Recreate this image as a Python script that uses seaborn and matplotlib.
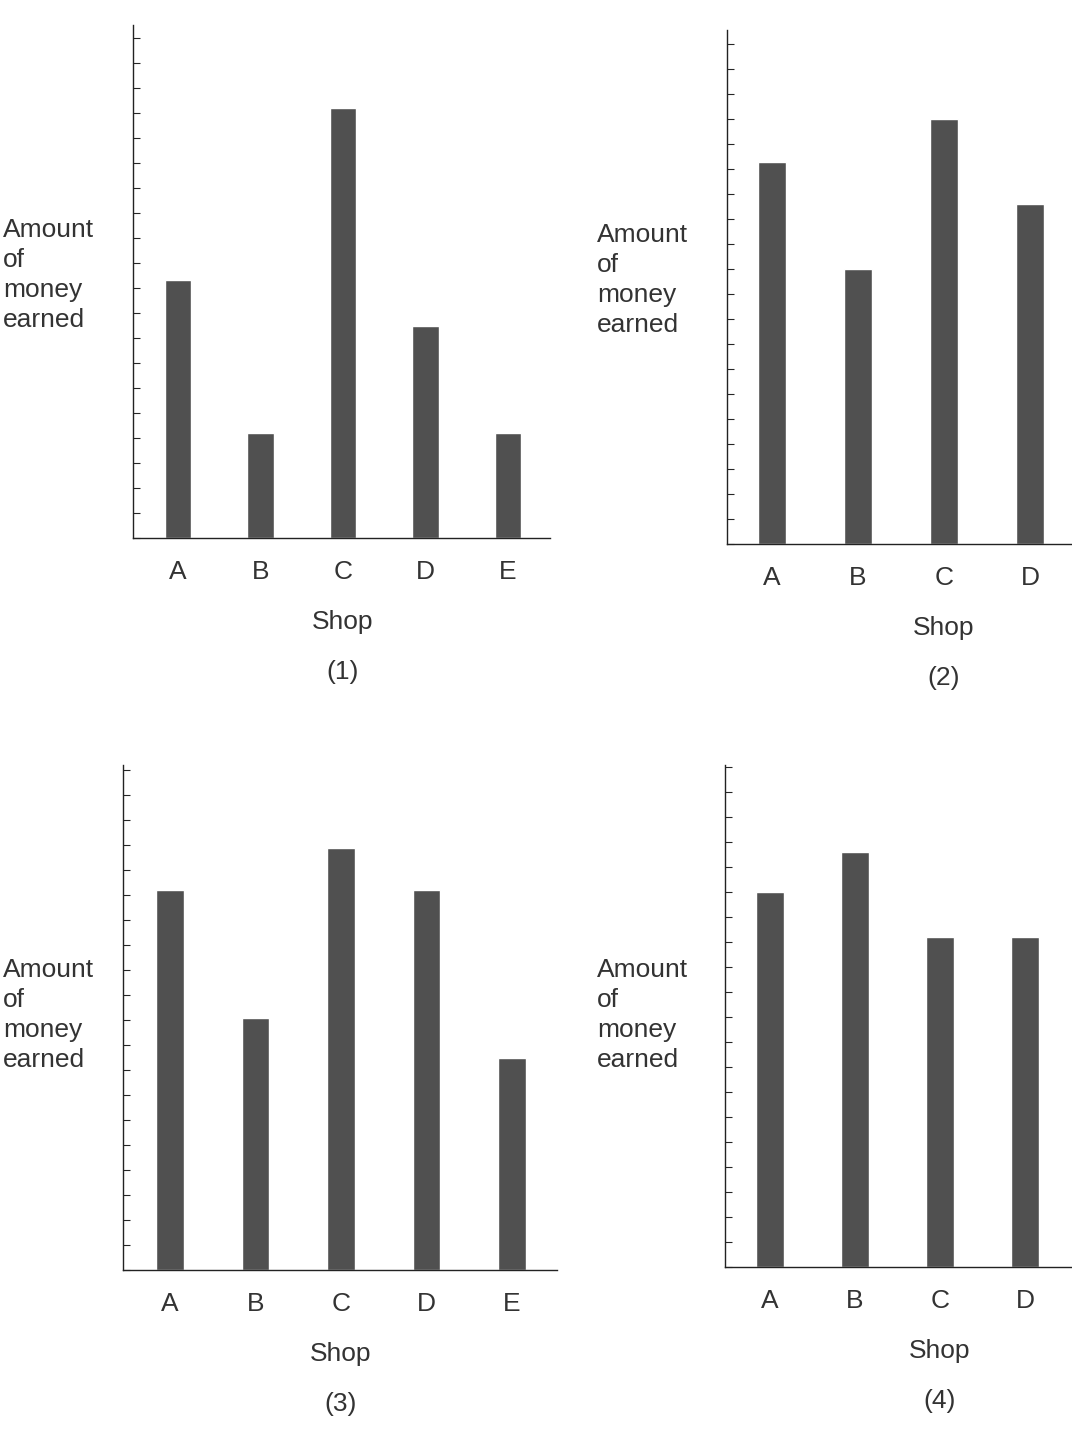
import matplotlib
matplotlib.use("Agg")
import matplotlib.pyplot as plt
import seaborn as sns
import pandas as pd

# values in tick units (one tick = one unit)
shops_5 = ["A", "B", "C", "D", "E"]
shops_4 = ["A", "B", "C", "D"]
values_1 = [10.3, 4.2, 17.2, 8.5, 4.2]
values_2 = [15.3, 11.0, 17.0, 13.6]
values_3 = [15.2, 10.1, 16.9, 15.2, 8.5]
values_4 = [15.0, 16.6, 13.2, 13.2]
captions = ["(1)", "(2)", "(3)", "(4)"]

sns.set_style("white")
plt.rcParams["font.family"] = ["Liberation Sans", "DejaVu Sans"]

W, H = 1072, 1440
fig = plt.figure(figsize=(W / 100, H / 100), dpi=100)

# (left, right, top, bottom, first bar centre, spacing, label x)
panels = [
    (133, 550, 25, 538, 178, 82.5, 3, shops_5, values_1),
    (727, 1160, 30, 544, 772, 86, 597, shops_4, values_2),
    (123, 557, 765, 1270, 170, 85.5, 3, shops_5, values_3),
    (725, 1160, 765, 1267, 770, 85, 597, shops_4, values_4),
]

for (l, r, t, b, c0, sp, lx, shops, vals), cap in zip(panels, captions):
    ax = fig.add_axes([l / W, 1 - b / H, (r - l) / W, (b - t) / H])
    df = pd.DataFrame({"shop": shops, "value": vals})
    sns.barplot(data=df, x="shop", y="value", color="#505050", width=0.32,
                saturation=1, ax=ax)
    ax.set_xlim((l - c0) / sp, (r - c0) / sp)
    top = (b - t) / 25
    ax.set_ylim(0, top)
    ax.set_yticks(range(0, int(top) + 1))
    ax.set_yticklabels([])
    ax.tick_params(axis="y", direction="in", length=5, width=0.8, left=True)
    ax.tick_params(axis="x", length=0, labelsize=19, pad=16, colors="#333333")
    for s in ["top", "right"]:
        ax.spines[s].set_visible(False)
    for s in ["left", "bottom"]:
        ax.spines[s].set_linewidth(1)
        ax.spines[s].set_color("#222222")
    ax.set_xlabel("")
    ax.set_ylabel("")
    mid = (c0 + sp * (len(shops) - 1) / 2) if len(shops) == 5 else c0 + sp * 2
    fig.text(mid / W, 1 - (b + 84) / H, "Shop", ha="center", va="center",
             fontsize=19, color="#333333")
    fig.text(mid / W, 1 - (b + 134) / H, cap, ha="center", va="center",
             fontsize=19, color="#333333")
    fig.text(lx / W, 1 - (t + 250) / H, "Amount\nof\nmoney\nearned",
             ha="left", va="center", fontsize=19, linespacing=1.3,
             color="#333333")

fig.savefig("out.png", dpi=100, facecolor="white")
